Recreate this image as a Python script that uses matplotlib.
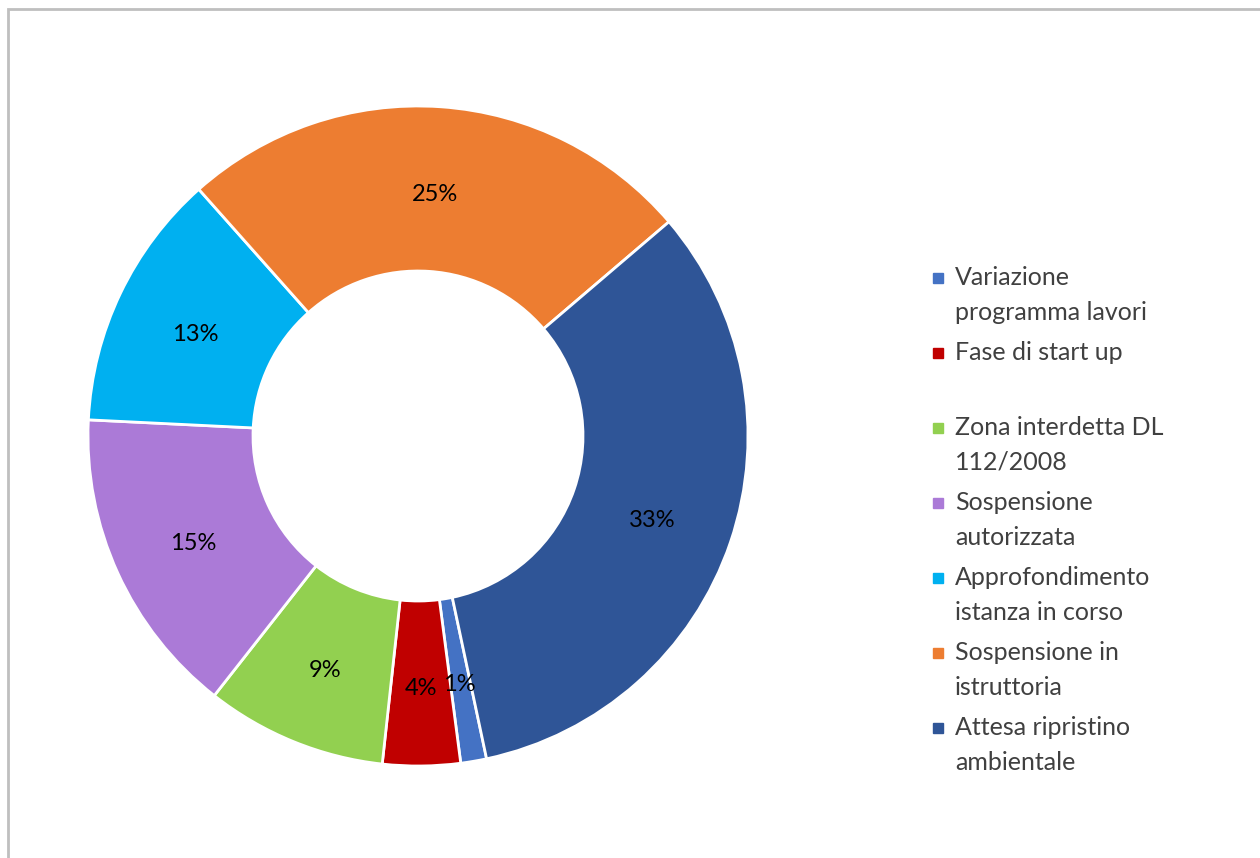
import numpy as np
import matplotlib
matplotlib.use('Agg')
import matplotlib.pyplot as plt
from matplotlib.patches import Rectangle

plt.rcParams['font.family'] = ['Lato', 'DejaVu Sans']

labels = ['Variazione\nprogramma lavori', 'Fase di start up',
          'Zona interdetta DL\n112/2008', 'Sospensione\nautorizzata',
          'Approfondimento\nistanza in corso', 'Sospensione in\nistruttoria',
          'Attesa ripristino\nambientale']
counts = [1, 3, 7, 12, 10, 20, 26]
colors = ['#4472C4', '#C00000', '#92D050', '#AB7AD7', '#00B0F0', '#ED7D31', '#2F5597']

W, H = 1260, 858
fig = plt.figure(figsize=(W / 100, H / 100), dpi=100)
fig.patches.append(Rectangle((8 / W, -0.1), 1.2, (H - 9 + 86) / H,
                             transform=fig.transFigure, fill=False,
                             edgecolor='#BFBFBF', lw=2))

cx, cy, r = 418, 436, 330
ax = fig.add_axes([(cx - r) / W, (H - cy - r) / H, 2 * r / W, 2 * r / H])
wedges, texts, autotexts = ax.pie(
    counts, colors=colors, startangle=-78, counterclock=False,
    radius=1, autopct='%1.0f%%', pctdistance=0.75,
    wedgeprops=dict(width=0.5, edgecolor='white', linewidth=2),
    textprops=dict(fontsize=17, color='black'))
for t in autotexts:
    x, y = t.get_position()
    t.set_position((x, y - 5 / r))
ax.set_xlim(-1, 1)
ax.set_ylim(-1, 1)
ax.set_aspect('equal')

# legend drawn by hand (Excel-like layout, handle on first line)
y0, step = 278, 75
for i, (lab, col) in enumerate(zip(labels, colors)):
    y = y0 + step * i
    fig.patches.append(Rectangle((933 / W, (H - y - 5) / H), 10 / W, 10 / H,
                                 transform=fig.transFigure, color=col))
    fig.text(955 / W, (H - y + 12) / H, lab, fontsize=18, color='#404040',
             va='top', linespacing=1.62, transform=fig.transFigure)

fig.savefig('out.png', dpi=100)
